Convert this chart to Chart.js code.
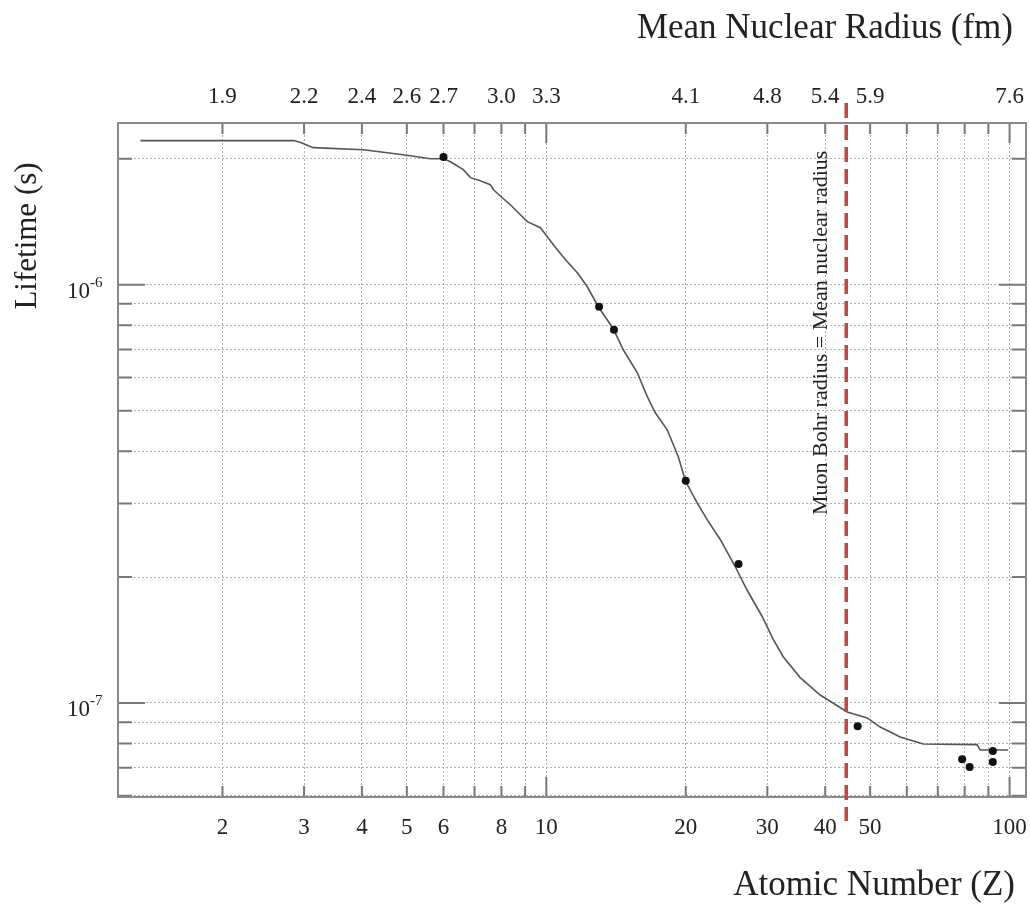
<!DOCTYPE html>
<html>
<head>
<meta charset="utf-8">
<script src="https://cdn.jsdelivr.net/npm/chart.js@4.4.1/dist/chart.umd.min.js"></script>
<style>
  html, body { margin: 0; padding: 0; background: #fff; }
  #wrap { width: 1030px; height: 909px; position: relative; }
</style>
</head>
<body>
<div id="wrap"><canvas id="chart"></canvas></div>
<script>
// --- data ---
// calculated curve: lifetime (ns) against atomic number Z
const curveZ = [1.33, 2.85, 2.95, 3.14, 4.03, 4.54, 5.09, 5.62, 6.0, 6.21, 6.62, 6.86, 7.2, 7.57, 7.69, 8.36,
                9.1, 9.71, 10.05, 10.56, 11.1, 11.67, 12.26, 12.95, 13.95, 14.66, 15.72, 16.52, 17.19, 18.24,
                19.27, 20.0, 21.17, 22.26, 23.74, 25.57, 27.14, 29.24, 30.89, 32.46, 35.32, 39.01, 44.62,
                49.28, 52.56, 58.04, 65.09, 85.1, 86.4, 99.3];
const curveNs = [2211, 2211, 2187, 2127, 2103, 2068, 2034, 2001, 2001, 1968, 1884, 1803, 1773, 1734, 1687, 1553,
                 1415, 1369, 1302, 1212, 1135, 1068, 989, 886, 785, 699, 616, 540, 494, 450,
                 388, 338, 301, 274, 246, 212, 186, 161, 142, 129, 115, 104.5, 95.2,
                 92.1, 87.6, 82.9, 79.8, 79.5, 77.2, 77.2];

// measured lifetimes (ns)
const pointZ  = [6, 13, 14, 20, 26, 47, 79, 82, 92, 92];
const pointNs = [2020, 886, 780, 340, 215, 88, 73.4, 70.3, 76.8, 72.3];

// axes
const zGrid = [2, 3, 4, 5, 6, 7, 8, 9, 10, 20, 30, 40, 50, 60, 70, 80, 90, 100];
const zMajor = [10, 100];
const lifeGrid = [6e-8, 7e-8, 8e-8, 9e-8, 1e-7, 2e-7, 3e-7, 4e-7, 5e-7, 6e-7, 7e-7, 8e-7, 9e-7, 1e-6, 2e-6];
const lifeMajor = [1e-7, 1e-6];
const zLabels = [2, 3, 4, 5, 6, 8, 10, 20, 30, 40, 50, 100];
const radiusLabels = ['1.9', '2.2', '2.4', '2.6', '2.7', '3.0', '3.3', '4.1', '4.8', '5.4', '5.9', '7.6'];
const lifeLabels = [1e-6, 1e-7];
const lifeLabelExp = ['-6', '-7'];
const bohrZ = 44.4;   // muon Bohr radius = mean nuclear radius

const serif = '"Liberation Serif", "DejaVu Serif", serif';

// frame, tick marks, labels and the dashed marker line
const decorations = {
    id: 'decorations',
    afterDatasetsDraw(chart) {
        const { ctx, chartArea: a, scales: { x, y } } = chart;
        ctx.save();

        // tick marks inside the frame
        ctx.strokeStyle = '#777';
        ctx.lineWidth = 2;
        ctx.beginPath();
        zGrid.forEach(v => {
            const px = x.getPixelForValue(v);
            const len = zMajor.includes(v) ? 20 : 11;
            ctx.moveTo(px, a.bottom); ctx.lineTo(px, a.bottom - len);
            ctx.moveTo(px, a.top); ctx.lineTo(px, a.top + len);
        });
        lifeGrid.forEach(v => {
            const py = y.getPixelForValue(v);
            const len = lifeMajor.some(m => Math.abs(m - v) < 1e-12) ? 27 : 14;
            ctx.moveTo(a.left, py); ctx.lineTo(a.left + len, py);
            ctx.moveTo(a.right, py); ctx.lineTo(a.right - len, py);
        });
        ctx.stroke();

        // frame
        ctx.strokeStyle = '#8a8a8a';
        ctx.lineWidth = 2;
        ctx.strokeRect(a.left, a.top, a.right - a.left, a.bottom - a.top);

        // tick labels
        ctx.fillStyle = '#222';
        ctx.textAlign = 'center';
        ctx.textBaseline = 'alphabetic';
        ctx.font = '23px ' + serif;
        zLabels.forEach((v, i) => {
            const px = x.getPixelForValue(v);
            ctx.fillText(String(v), px, 834);
            ctx.fillText(radiusLabels[i], px, 103);
        });
        lifeLabels.forEach((v, i) => {
            const py = y.getPixelForValue(v);
            ctx.textAlign = 'right';
            ctx.font = '23px ' + serif;
            ctx.fillText('10', 90, py + 13);
            ctx.textAlign = 'left';
            ctx.font = '15px ' + serif;
            ctx.fillText(lifeLabelExp[i], 90, py + 2);
        });

        // axis titles
        ctx.font = '35px ' + serif;
        ctx.textAlign = 'right';
        ctx.fillText('Mean Nuclear Radius (fm)', 1013, 38);
        ctx.fillText('Atomic Number (Z)', 1015, 895);
        ctx.save();
        ctx.translate(36, 236);
        ctx.rotate(-Math.PI / 2);
        ctx.textAlign = 'center';
        ctx.font = '31px ' + serif;
        ctx.fillText('Lifetime (s)', 0, 0);
        ctx.restore();

        // dashed line where muon Bohr radius equals nuclear radius
        const bx = x.getPixelForValue(bohrZ);
        ctx.strokeStyle = 'rgb(196, 68, 66)';
        ctx.lineWidth = 3.5;
        ctx.setLineDash([15, 7]);
        ctx.beginPath();
        ctx.moveTo(bx, 103);
        ctx.lineTo(bx, 821);
        ctx.stroke();
        ctx.setLineDash([]);

        ctx.save();
        ctx.translate(bx - 19, 515);
        ctx.rotate(-Math.PI / 2);
        ctx.textAlign = 'left';
        ctx.font = '22px ' + serif;
        ctx.fillStyle = '#222';
        ctx.fillText('Muon Bohr radius = Mean nuclear radius', 0, 0);
        ctx.restore();

        ctx.restore();
    }
};

const gridStyle = {
    display: true,
    color: '#b0b0b0',
    lineWidth: 1,
    drawTicks: false
};

new Chart(document.getElementById('chart'), {
    type: 'scatter',
    data: {
        datasets: [
            {
                label: 'calculated',
                data: curveZ.map((z, i) => ({ x: z, y: curveNs[i] * 1e-9 })),
                showLine: true,
                borderColor: '#555',
                borderWidth: 1.6,
                pointRadius: 0,
                tension: 0,
                order: 2
            },
            {
                label: 'measured',
                data: pointZ.map((z, i) => ({ x: z, y: pointNs[i] * 1e-9 })),
                showLine: false,
                pointRadius: 4,
                pointBackgroundColor: '#111',
                pointBorderColor: '#111',
                pointBorderWidth: 0,
                order: 1
            }
        ]
    },
    options: {
        responsive: true,
        maintainAspectRatio: false,
        animation: false,
        layout: { padding: { left: 118, right: 4, top: 123, bottom: 112 } },
        plugins: {
            legend: { display: false },
            tooltip: { enabled: false }
        },
        scales: {
            x: {
                type: 'logarithmic',
                position: 'bottom',
                min: 1.19,
                max: 108.5,
                grid: gridStyle,
                border: { display: false, dash: [2, 2] },
                ticks: { display: false },
                afterBuildTicks: scale => { scale.ticks = zGrid.map(v => ({ value: v })); },
                afterFit: scale => { scale.height = 0; }
            },
            y: {
                type: 'logarithmic',
                position: 'left',
                min: 5.96e-8,
                max: 2.436e-6,
                grid: gridStyle,
                border: { display: false, dash: [2, 2] },
                ticks: { display: false },
                afterBuildTicks: scale => { scale.ticks = lifeGrid.map(v => ({ value: v })); },
                afterFit: scale => { scale.width = 0; }
            }
        }
    },
    plugins: [decorations]
});
</script>
</body>
</html>
